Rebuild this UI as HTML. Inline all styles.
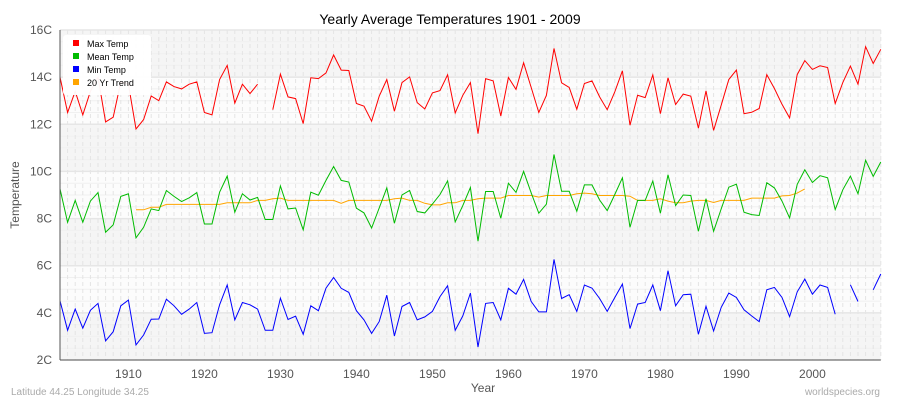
<!DOCTYPE html>
<html><head><meta charset="utf-8"><style>
body{margin:0;background:#fff;}
svg{display:block;font-family:"Liberation Sans",sans-serif;}
</style></head><body>
<svg id="chart" width="900" height="400">
<text x="450" y="24" text-anchor="middle" font-size="14" fill="#000">Yearly Average Temperatures 1901 - 2009</text>
<g id="bg"></g><g id="grid"></g><g id="series"></g><g id="axes"></g>
<text x="483" y="392" text-anchor="middle" font-size="12" fill="#555">Year</text>
<text x="19" y="195" text-anchor="middle" font-size="12" fill="#555" transform="rotate(-90 19 195)">Temperature</text>
<text x="11" y="395" font-size="10" fill="#aaa">Latitude 44.25 Longitude 34.25</text>
<text x="880" y="395" text-anchor="end" font-size="10" fill="#aaa">worldspecies.org</text>
<g>
<rect x="63" y="35" width="88" height="60" rx="3" fill="#fff" opacity="0.95"/>
<g><rect x="73" y="40" width="6" height="6" fill="#ff0000"/><text x="87" y="47" font-size="9">Max Temp</text></g>
<g><rect x="73" y="53" width="6" height="6" fill="#00bb00"/><text x="87" y="60" font-size="9">Mean Temp</text></g>
<g><rect x="73" y="66" width="6" height="6" fill="#0000ff"/><text x="87" y="73" font-size="9">Min Temp</text></g>
<g><rect x="73" y="79" width="6" height="6" fill="#ffa500"/><text x="87" y="86" font-size="9">20 Yr Trend</text></g>
</g>
</svg>
<script>
const startYear = 1901;
const maxTemp = [14.0,12.5,13.4,12.4,13.4,14.0,12.1,12.3,13.8,13.7,
11.8,12.2,13.2,13.0,13.8,13.6,13.5,13.7,13.8,12.5,
12.4,13.9,14.5,12.9,13.7,13.3,13.7,null,12.62,14.13,
13.16,13.09,12.03,13.97,13.94,14.18,14.94,14.3,14.28,12.88,
12.77,12.13,13.19,13.9,12.55,13.77,14.01,12.92,12.65,13.33,
13.43,14.1,12.48,13.23,13.77,11.6,13.94,13.84,12.35,13.99,
13.48,14.61,13.56,12.5,13.23,15.22,13.76,13.56,12.64,13.73,
13.84,13.16,12.62,13.38,14.27,11.96,13.23,13.13,14.09,12.45,
13.97,12.84,13.28,13.19,11.84,13.42,11.74,12.81,13.9,14.3,
12.45,12.51,12.67,14.11,13.52,12.85,12.27,14.11,14.7,14.33,
14.48,14.41,12.88,13.77,14.47,13.7,15.29,14.58,15.18];
const meanTemp = [9.26,7.84,8.77,7.84,8.74,9.1,7.42,7.73,8.94,9.05,
7.18,7.63,8.41,8.34,9.19,8.94,8.72,8.88,9.1,7.77,
7.77,9.12,9.8,8.27,9.05,8.79,8.9,7.96,7.96,9.38,
8.41,8.45,7.52,9.12,8.99,9.62,10.21,9.62,9.55,8.44,
8.24,7.6,8.45,9.3,7.8,9.0,9.19,8.3,8.24,8.62,
9.02,9.6,7.86,8.55,9.32,7.04,9.15,9.15,8.01,9.5,
9.11,10.0,9.09,8.23,8.61,10.72,9.16,9.16,8.31,9.43,
9.43,8.79,8.34,9.02,9.73,7.63,8.77,8.77,9.59,8.23,
9.86,8.55,9.0,8.98,7.46,8.84,7.46,8.41,9.33,9.46,
8.27,8.17,8.13,9.52,9.3,8.74,8.03,9.45,10.07,9.53,
9.82,9.73,8.38,9.22,9.8,9.05,10.47,9.79,10.4];
const minTemp = [4.51,3.26,4.16,3.35,4.11,4.4,2.81,3.2,4.3,4.54,
2.64,3.06,3.73,3.74,4.58,4.3,3.94,4.16,4.44,3.13,
3.16,4.34,5.18,3.7,4.44,4.34,4.16,3.26,3.26,4.62,
3.72,3.86,3.09,4.3,4.09,5.05,5.5,5.04,4.87,4.09,
3.7,3.13,3.63,4.75,3.02,4.27,4.44,3.7,3.83,4.06,
4.69,5.15,3.26,3.87,4.84,2.55,4.4,4.44,3.7,5.04,
4.79,5.42,4.48,4.04,4.04,6.27,4.61,4.77,4.06,5.18,
5.05,4.61,4.06,4.65,5.22,3.33,4.37,4.44,5.18,4.09,
5.79,4.3,4.77,4.79,3.09,4.28,3.23,4.23,4.84,4.65,
4.13,3.87,3.63,4.98,5.08,4.65,3.84,4.89,5.43,4.79,
5.18,5.08,3.94,null,5.19,4.48,null,4.98,5.65];
const trendStartYear = 1911;
const trend = [8.37,8.37,8.48,8.48,8.60,8.60,8.60,8.60,8.60,8.60,
8.60,8.60,8.67,8.67,8.67,8.67,8.77,8.77,8.84,8.87,
8.77,8.77,8.77,8.77,8.77,8.77,8.77,8.65,8.77,8.77,
8.77,8.77,8.77,8.77,8.84,8.87,8.77,8.77,8.65,8.58,
8.58,8.67,8.67,8.77,8.77,8.84,8.87,8.87,8.87,8.98,
8.98,8.98,8.98,8.91,8.98,8.98,8.98,8.98,9.05,9.08,
9.05,8.98,8.98,8.98,8.98,8.95,8.77,8.77,8.77,8.84,
8.74,8.67,8.67,8.74,8.77,8.77,8.68,8.77,8.77,8.77,
8.77,8.87,8.87,8.87,8.87,8.96,8.98,9.08,9.26];
const yTicks = [2,4,6,8,10,12,14,16];
const xTicks = [1910,1920,1930,1940,1950,1960,1970,1980,1990,2000];

const NS="http://www.w3.org/2000/svg";
const L=60,R=880.8,T=30,B=360;
const xs=y=>L+(y-1901)*(R-L)/108;
const ys=v=>B-(v-2)*(B-T)/14;
function mk(tag,attrs,parent){const e=document.createElementNS(NS,tag);for(const k in attrs)e.setAttribute(k,attrs[k]);parent.appendChild(e);return e;}
const bg=document.getElementById('bg'),grid=document.getElementById('grid'),ser=document.getElementById('series'),ax=document.getElementById('axes');
for(let i=0;i<7;i++){
  const r=mk('rect',{x:L,y:ys(4+2*i),width:R-L,height:ys(2)-ys(4),fill:(i%2==0)?'#f5f5f5':'#fcfcfc'},bg);
  
  
}
for(let v=2.5;v<16;v+=0.5){
  if(v%2===0)continue;
  const l=mk('line',{x1:L,x2:R,y1:ys(v),y2:ys(v),stroke:'#f0f0f0','stroke-width':1},grid);
  
  
}
for(let y=1901;y<=2009;y++){
  const l=mk('line',{x1:xs(y),x2:xs(y),y1:T,y2:B,stroke:'#e4e4e4','stroke-width':1,'stroke-dasharray':'4,3'},grid);
  
  
}
yTicks.forEach(v=>{
  const l=mk('line',{x1:L,x2:R,y1:ys(v),y2:ys(v),stroke:'#e6e6e6','stroke-width':1.5},grid);
  
  
  const t=mk('text',{x:52,y:ys(v)+4,'text-anchor':'end','font-size':12,fill:'#555'},ax);
  t.textContent=v+'C';
  
  
});
xTicks.forEach(v=>{
  const t=mk('text',{x:xs(v),y:378,'text-anchor':'middle','font-size':12,fill:'#555'},ax);
  t.textContent=v;
  
  
});
const ya=mk('line',{x1:L,x2:L,y1:T,y2:B,stroke:'#555','stroke-width':1},ax);


const xa=mk('line',{x1:L,x2:R,y1:B,y2:B,stroke:'#555','stroke-width':1},ax);


function draw(data,y0,color,name){
  let d='',pen=false;
  data.forEach((v,i)=>{
    if(v==null){pen=false;return;}
    d+=(pen?'L':'M')+xs(y0+i).toFixed(1)+','+ys(v).toFixed(1);pen=true;
  });
  const p=mk('path',{d:d,fill:'none',stroke:color,'stroke-width':1},ser);
  
  
}
draw(trend,trendStartYear,'#ffa500','trend-line');
draw(maxTemp,startYear,'#ff0000','max-temp-line');
draw(meanTemp,startYear,'#00bb00','mean-temp-line');
draw(minTemp,startYear,'#0000ff','min-temp-line');
</script>
</body></html>
